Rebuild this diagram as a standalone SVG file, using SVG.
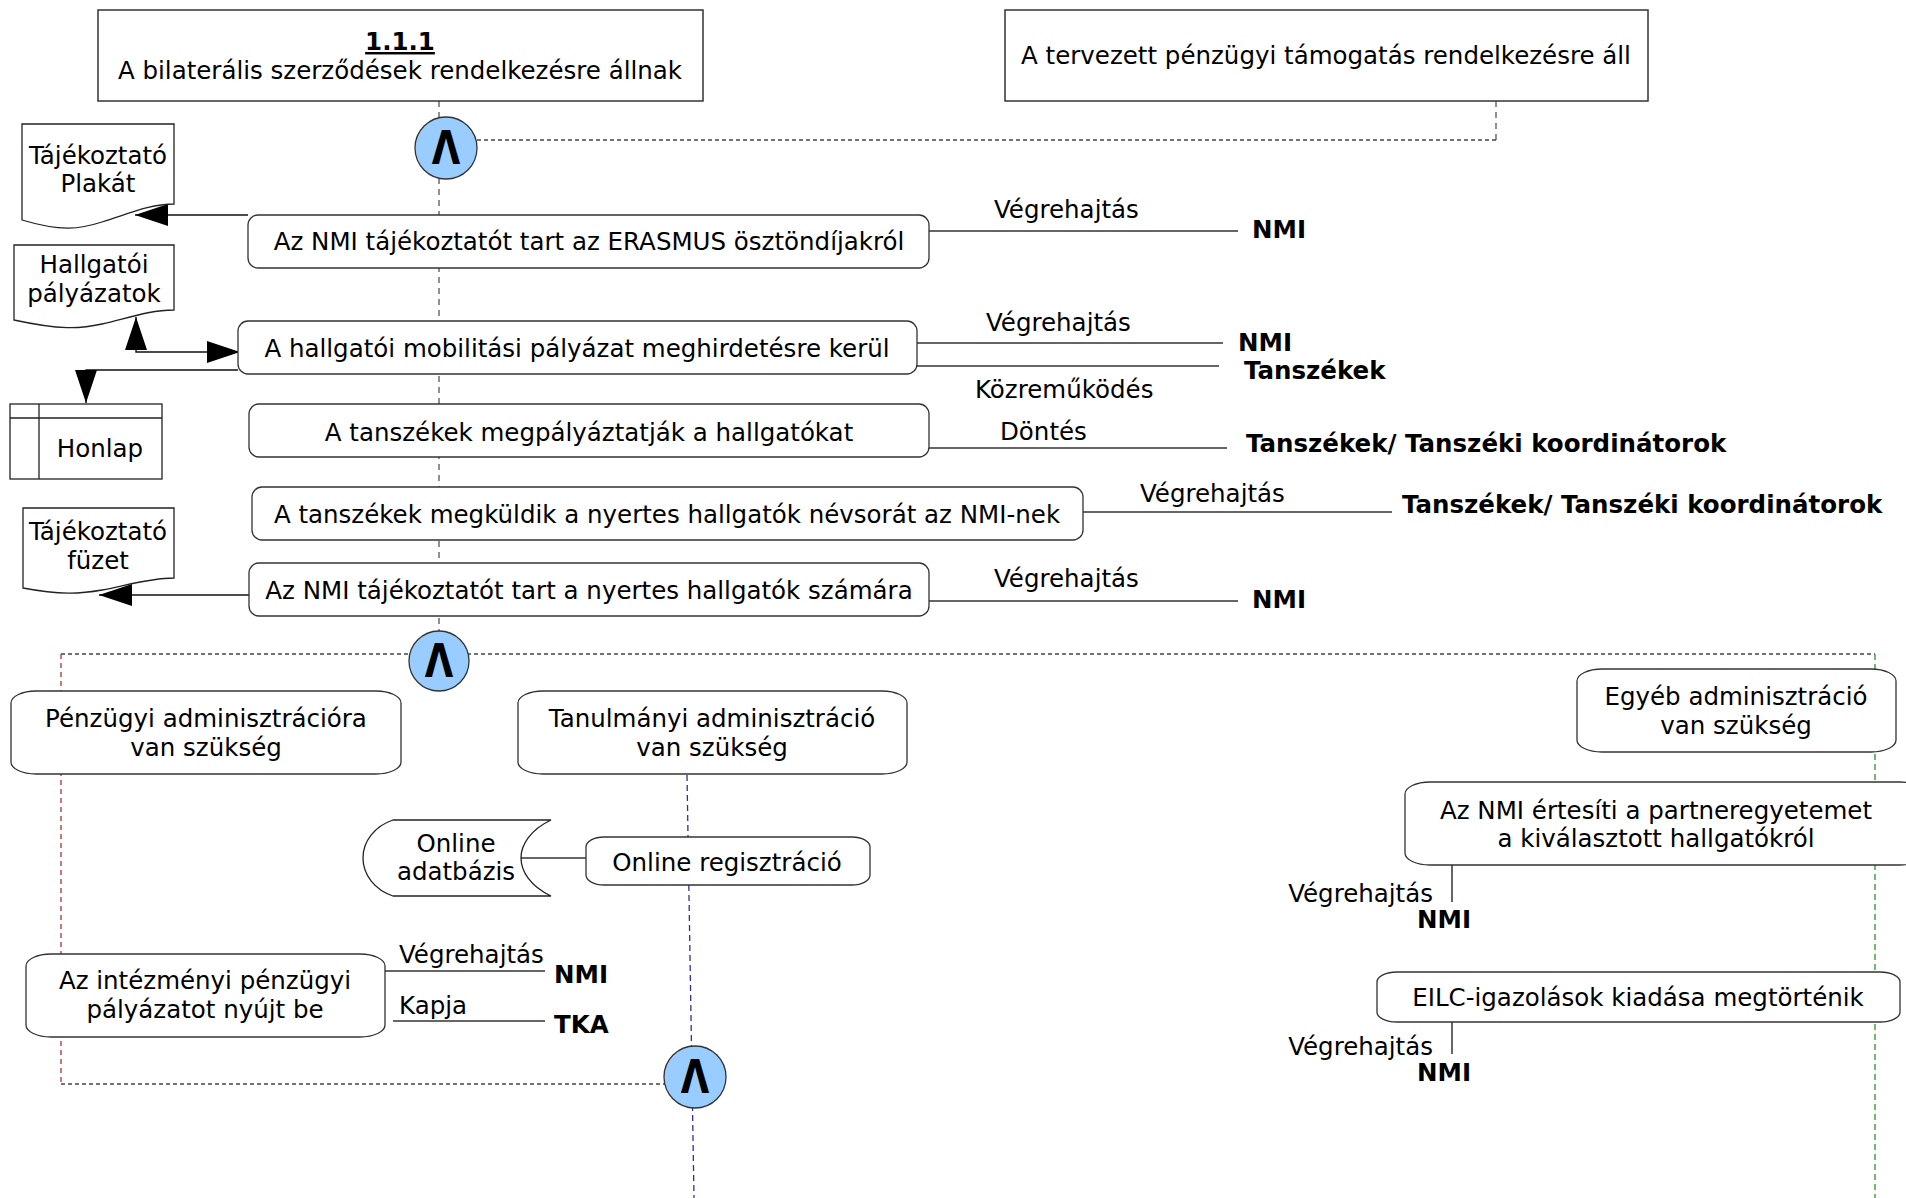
<svg xmlns="http://www.w3.org/2000/svg" width="1906" height="1198" viewBox="0 0 1906 1198">
<style>
text{font-family:"DejaVu Sans","Verdana","Liberation Sans",sans-serif;font-size:24.5px;fill:#000}
.c{text-anchor:middle}
.e{text-anchor:end}
.b{font-weight:bold}
.box{fill:#fff;stroke:#333;stroke-width:1.5}
.act{fill:#fff;stroke:#333;stroke-width:1.3}
.doc{fill:#fff;stroke:#222;stroke-width:1.3}
.gate{fill:#99ccff;stroke:#333;stroke-width:1.3}
.lam{font-size:46px;font-weight:bold;text-anchor:middle}
.con{fill:none;stroke:#111;stroke-width:1.4}
.side{fill:none;stroke:#333;stroke-width:1.5}
.flow{fill:none;stroke:#555;stroke-width:1.3;stroke-dasharray:6 5}
.dot{fill:none;stroke:#444;stroke-width:1.3;stroke-dasharray:4 3}
.red{fill:none;stroke:#b03030;stroke-width:1.3;stroke-dasharray:5 4}
.blue{fill:none;stroke:#303095;stroke-width:1.3;stroke-dasharray:6 4}
.green{fill:none;stroke:#3a9a3a;stroke-width:1.4;stroke-dasharray:6 4}
</style>
<defs>
<marker id="arr" viewBox="0 0 33 22" refX="33" refY="11" markerWidth="33" markerHeight="22" markerUnits="userSpaceOnUse" orient="auto-start-reverse">
<path d="M0,0 L33,11 L0,22 Z" fill="#000"/>
</marker>
</defs>

<g id="connectors">
<path class="flow" d="M439,101 V632"/>
<path class="flow" d="M1496,101 V140"/>
<path class="dot" d="M1496,140 H477"/>
<path class="dot" d="M61,654 H1875"/>
<path class="red" d="M61,654 V1084"/>
<path class="dot" d="M61,1084 H665"/>
<path class="blue" d="M687,775 L694,1198"/>
<path class="green" d="M1875,654 V1198"/>
<path class="con" d="M248,215 H135" marker-end="url(#arr)"/>
<path class="con" d="M136,317 V352 H240" marker-start="url(#arr)" marker-end="url(#arr)"/>
<path class="con" d="M238,370 H86 V403" marker-end="url(#arr)"/>
<path class="con" d="M249,595 H99" marker-end="url(#arr)"/>
<path class="side" d="M521,858 H586"/>
<path class="side" d="M929,231 H1238"/>
<path class="side" d="M917,343 H1223"/>
<path class="side" d="M917,366 H1219"/>
<path class="side" d="M929,448 H1227"/>
<path class="side" d="M1083,512 H1392"/>
<path class="side" d="M929,601 H1238"/>
<path class="side" d="M385,971 H545"/>
<path class="side" d="M393,1021 H545"/>
<path class="side" d="M1452,865 V902"/>
<path class="side" d="M1452,1022 V1054"/>
</g>

<g id="start1">
<rect class="box" x="98" y="10" width="605" height="91"/>
<text class="c b" x="400" y="50" text-decoration="underline">1.1.1</text>
<text class="c" x="400" y="79">A bilaterális szerződések rendelkezésre állnak</text>
</g>
<g id="start2">
<rect class="box" x="1005" y="10" width="643" height="91"/>
<text class="c" x="1326" y="64">A tervezett pénzügyi támogatás rendelkezésre áll</text>
</g>

<g id="and1">
<circle class="gate" cx="446" cy="148" r="31"/>
<text class="lam" transform="translate(446,164) scale(0.8,1)">Λ</text>
</g>

<g id="doc-plakat">
<path class="doc" d="M22,124 H174 V204 C150,204 128,214 102,222 C80,229 62,232 22,220 Z"/>
<text class="c" x="98" y="164">Tájékoztató</text>
<text class="c" x="98" y="192">Plakát</text>
</g>
<g id="doc-palyazatok">
<path class="doc" d="M14,245 H174 V310 C150,310 128,318 102,324 C80,329 60,330 14,320 Z"/>
<text class="c" x="94" y="273">Hallgatói</text>
<text class="c" x="94" y="302">pályázatok</text>
</g>
<g id="honlap">
<rect class="doc" x="10" y="404" width="152" height="75"/>
<path class="doc" d="M10,418 H162 M39,404 V479"/>
<text class="c" x="100" y="457">Honlap</text>
</g>
<g id="doc-fuzet">
<path class="doc" d="M23,508 H174 V578 C150,578 128,585 102,590 C80,594 60,595 23,588 Z"/>
<text class="c" x="98" y="540">Tájékoztató</text>
<text class="c" x="98" y="569">füzet</text>
</g>

<g id="act1">
<rect class="act" x="248" y="215" width="681" height="53" rx="10"/>
<text class="c" x="589" y="250">Az NMI tájékoztatót tart az ERASMUS ösztöndíjakról</text>
<text x="994" y="218">Végrehajtás</text>
<text class="b" x="1252" y="238">NMI</text>
</g>
<g id="act2">
<rect class="act" x="238" y="321" width="679" height="53" rx="10"/>
<text class="c" x="577" y="357">A hallgatói mobilitási pályázat meghirdetésre kerül</text>
<text x="986" y="331">Végrehajtás</text>
<text class="b" x="1238" y="351">NMI</text>
<text class="b" x="1244" y="379">Tanszékek</text>
<text x="975" y="398">Közreműködés</text>
</g>
<g id="act3">
<rect class="act" x="249" y="404" width="680" height="53" rx="10"/>
<text class="c" x="589" y="441">A tanszékek megpályáztatják a hallgatókat</text>
<text x="1000" y="440">Döntés</text>
<text class="b" x="1246" y="452">Tanszékek/ Tanszéki koordinátorok</text>
</g>
<g id="act4">
<rect class="act" x="252" y="487" width="831" height="53" rx="10"/>
<text class="c" x="667" y="523">A tanszékek megküldik a nyertes hallgatók névsorát az NMI-nek</text>
<text x="1140" y="502">Végrehajtás</text>
<text class="b" x="1402" y="513">Tanszékek/ Tanszéki koordinátorok</text>
</g>
<g id="act5">
<rect class="act" x="249" y="563" width="680" height="53" rx="10"/>
<text class="c" x="589" y="599">Az NMI tájékoztatót tart a nyertes hallgatók számára</text>
<text x="994" y="587">Végrehajtás</text>
<text class="b" x="1252" y="608">NMI</text>
</g>

<g id="and2">
<circle class="gate" cx="439" cy="661" r="30"/>
<text class="lam" transform="translate(439,677) scale(0.8,1)">Λ</text>
</g>

<g id="branch-penzugyi">
<rect class="act" x="11" y="691" width="390" height="83" rx="25" ry="12"/>
<text class="c" x="206" y="727">Pénzügyi adminisztrációra</text>
<text class="c" x="206" y="756">van szükség</text>
</g>
<g id="branch-tanulmanyi">
<rect class="act" x="518" y="691" width="389" height="83" rx="25" ry="12"/>
<text class="c" x="712" y="727">Tanulmányi adminisztráció</text>
<text class="c" x="712" y="756">van szükség</text>
</g>
<g id="branch-egyeb">
<rect class="act" x="1577" y="669" width="319" height="83" rx="25" ry="12"/>
<text class="c" x="1736" y="705">Egyéb adminisztráció</text>
<text class="c" x="1736" y="734">van szükség</text>
</g>

<g id="online-db">
<path class="doc" d="M393,820 H551 C530,830 521,845 521,858 C521,871 530,886 551,896 H393 C375,890 363,875 363,858 C363,841 375,826 393,820 Z"/>
<text class="c" x="456" y="852">Online</text>
<text class="c" x="456" y="880">adatbázis</text>
</g>
<g id="online-reg">
<rect class="act" x="586" y="837" width="284" height="48" rx="18" ry="10"/>
<text class="c" x="727" y="871">Online regisztráció</text>
</g>

<g id="intezmenyi">
<rect class="act" x="26" y="954" width="359" height="83" rx="25" ry="12"/>
<text class="c" x="205" y="989">Az intézményi pénzügyi</text>
<text class="c" x="205" y="1018">pályázatot nyújt be</text>
<text x="399" y="963">Végrehajtás</text>
<text class="b" x="554" y="983">NMI</text>
<text x="399" y="1014">Kapja</text>
<text class="b" x="554" y="1033">TKA</text>
</g>

<g id="and3">
<circle class="gate" cx="695" cy="1077" r="31"/>
<text class="lam" transform="translate(695,1093) scale(0.8,1)">Λ</text>
</g>

<g id="ertesiti">
<rect class="act" x="1405" y="782" width="520" height="83" rx="25" ry="12"/>
<text class="c" x="1656" y="819">Az NMI értesíti a partneregyetemet</text>
<text class="c" x="1656" y="847">a kiválasztott hallgatókról</text>
<text class="e" x="1433" y="902">Végrehajtás</text>
<text class="b" x="1417" y="928">NMI</text>
</g>
<g id="eilc">
<rect class="act" x="1377" y="972" width="523" height="50" rx="20" ry="10"/>
<text class="c" x="1638" y="1006">EILC-igazolások kiadása megtörténik</text>
<text class="e" x="1433" y="1055">Végrehajtás</text>
<text class="b" x="1417" y="1081">NMI</text>
</g>
</svg>
